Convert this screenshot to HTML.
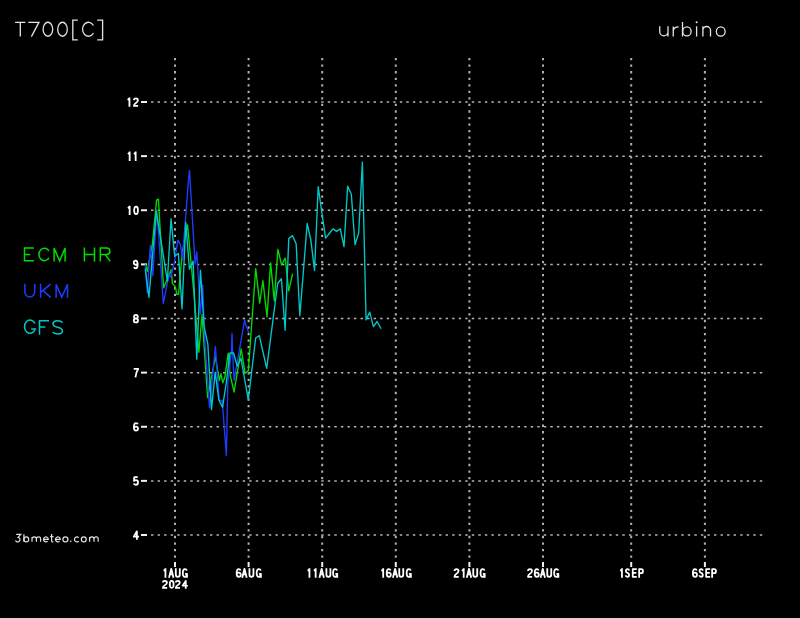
<!DOCTYPE html>
<html><head><meta charset="utf-8"><style>
html,body{margin:0;padding:0;background:#000;width:800px;height:618px;overflow:hidden}
svg{display:block;will-change:transform}
.gh{stroke:#b4b4b4;stroke-width:1.5;stroke-dasharray:2.4 4.146}
.gv{stroke:#b0b0b0;stroke-width:2.0;stroke-dasharray:2.3 4.246}
.tk{stroke:#f0f0f0;stroke-width:2}
</style></head><body>
<svg width="800" height="618" viewBox="0 0 800 618">
<g fill="none" stroke="#e4e4e4" stroke-width="1.3">
<path d="M15.1 22.4H25.4M20.3 22.4V36.6M28.25 22.4H38.9L31.4 36.6"/>
<ellipse cx="47.9" cy="29.25" rx="4.8" ry="7.0"/><ellipse cx="62.5" cy="29.25" rx="4.8" ry="7.0"/>
<path d="M77.8 20.05H72.8V39.95H77.8M97.2 20.05H102.6V39.95H97.2"/>
<path d="M93.5 25.5A5.94 7 0 1 0 93.5 33"/>
<path d="M659.75 26.25V31.7A4.125 4.125 0 0 0 668 31.7M668 26.25V36.5"/>
<path d="M673.25 26.5V36.5M673.25 31.2Q673.6 26.9 678.6 26.9"/>
<path d="M682.5 22V36.5"/><ellipse cx="686.9" cy="31.4" rx="4.2" ry="4.5"/>
<path d="M696.6 26.25V36.5M702.9 26.25V36.5M702.9 30.3A3.8 3.8 0 0 1 710.5 30.3V36.5"/>
<ellipse cx="720.75" cy="31.5" rx="4.4" ry="4.6"/>
</g>
<circle cx="696.6" cy="22.3" r="1.0" fill="#e4e4e4"/>
<g fill="none" stroke-width="1.5">
<path stroke="#00dc00" d="M33.9 248.1H24.5V260.7H33.9M24.5 254.4H30.3M49 251A5.47 6.25 0 1 0 49 257.8M54.1 261.4V248.1L59.6 260.9L65.1 248.1V261.4M84.4 247.4V261.4M94.5 247.4V261.4M84.4 254.6H94.5M100.3 261.4V248.1H106.7A3.15 3.15 0 0 1 106.7 254.4H100.3M105 254.4L110.3 261.2"/>
<path stroke="#1e3cff" d="M24.9 283.7V292.1A4.9 4.9 0 0 0 34.7 292.1V283.7M40.6 283.7V297.75M50.6 284.2L40.6 292.4M42.8 290.2L50.6 297.4M56.1 297.75V284.4L61.75 297.2L67.5 284.4V297.75"/>
<path stroke="#00c8c8" d="M35 323.5A5.6 6.6 0 1 0 35.3 329.1H31.25M49 320.75H39.5V334.7M39.5 326.9H45.3M62.6 322.6C61.5 321.2 59.6 320.75 57.6 320.75C54.8 320.75 53 322 53 324C53 326.3 55.2 326.8 57.6 327.3C60.3 327.9 62.4 328.6 62.4 331C62.4 333 60.4 333.95 57.6 333.95C55.3 333.95 53.6 333.3 52.7 331.9"/>
</g>
<g fill="none" stroke="#e2e2e2" stroke-width="1.2">
<path d="M16.2 534.3H20.8L18.1 537.4A2.35 2.3 0 1 1 15.5 540.6M23.9 534.3V541.8M32 536.9V541.8M32 538.9A2.2 2.1 0 0 1 36.4 538.9V541.8M36.4 538.9A2.1 2.1 0 0 1 40.6 538.9V541.8M43.5 539.3H48.3A2.4 2.45 0 1 0 47.6 541.1M51.6 533.9V540.8Q51.6 542 53.3 541.9M50.1 536.6H53.5M55.5 539.3H60.3A2.4 2.45 0 1 0 59.6 541.1M78.8 537.6A2.6 2.45 0 1 0 78.8 541.2M89.6 536.9V541.8M89.6 538.9A2.2 2.1 0 0 1 94 538.9V541.8M94 538.9A2.1 2.1 0 0 1 98.2 538.9V541.8"/>
<ellipse cx="26.3" cy="539.4" rx="2.4" ry="2.45"/><ellipse cx="65.4" cy="539.4" rx="2.5" ry="2.45"/><ellipse cx="83.8" cy="539.4" rx="2.45" ry="2.45"/>
</g><circle cx="70.8" cy="541.3" r="0.8" fill="#e2e2e2"/>
<line x1="151.05" y1="102.0" x2="762.5" y2="102.0" class="gh"/>
<line x1="141" y1="102.0" x2="147" y2="102.0" class="tk"/>
<line x1="151.05" y1="156.125" x2="762.5" y2="156.125" class="gh"/>
<line x1="141" y1="156.125" x2="147" y2="156.125" class="tk"/>
<line x1="151.05" y1="210.25" x2="762.5" y2="210.25" class="gh"/>
<line x1="141" y1="210.25" x2="147" y2="210.25" class="tk"/>
<line x1="151.05" y1="264.375" x2="762.5" y2="264.375" class="gh"/>
<line x1="141" y1="264.375" x2="147" y2="264.375" class="tk"/>
<line x1="151.05" y1="318.5" x2="762.5" y2="318.5" class="gh"/>
<line x1="141" y1="318.5" x2="147" y2="318.5" class="tk"/>
<line x1="151.05" y1="372.625" x2="762.5" y2="372.625" class="gh"/>
<line x1="141" y1="372.625" x2="147" y2="372.625" class="tk"/>
<line x1="151.05" y1="426.75" x2="762.5" y2="426.75" class="gh"/>
<line x1="141" y1="426.75" x2="147" y2="426.75" class="tk"/>
<line x1="151.05" y1="480.875" x2="762.5" y2="480.875" class="gh"/>
<line x1="141" y1="480.875" x2="147" y2="480.875" class="tk"/>
<line x1="151.05" y1="535.0" x2="762.5" y2="535.0" class="gh"/>
<line x1="141" y1="535.0" x2="147" y2="535.0" class="tk"/>
<line x1="175" y1="58.0" x2="175" y2="558" class="gv"/>
<line x1="175" y1="562" x2="175" y2="567" class="tk"/>
<line x1="248.6" y1="58.0" x2="248.6" y2="558" class="gv"/>
<line x1="248.6" y1="562" x2="248.6" y2="567" class="tk"/>
<line x1="322.2" y1="58.0" x2="322.2" y2="558" class="gv"/>
<line x1="322.2" y1="562" x2="322.2" y2="567" class="tk"/>
<line x1="395.8" y1="58.0" x2="395.8" y2="558" class="gv"/>
<line x1="395.8" y1="562" x2="395.8" y2="567" class="tk"/>
<line x1="469.4" y1="58.0" x2="469.4" y2="558" class="gv"/>
<line x1="469.4" y1="562" x2="469.4" y2="567" class="tk"/>
<line x1="543.0" y1="58.0" x2="543.0" y2="558" class="gv"/>
<line x1="543.0" y1="562" x2="543.0" y2="567" class="tk"/>
<line x1="631.2" y1="58.0" x2="631.2" y2="558" class="gv"/>
<line x1="631.2" y1="562" x2="631.2" y2="567" class="tk"/>
<line x1="704.9" y1="58.0" x2="704.9" y2="558" class="gv"/>
<line x1="704.9" y1="562" x2="704.9" y2="567" class="tk"/>
<g fill="none" stroke="#fff" stroke-width="1.8" stroke-linejoin="round"><path transform="translate(163.00 568.30)" d="M2.45 0V9.4M0.8 2.7L2.45 0.7"/><path transform="translate(168.10 568.30)" d="M0.9 9.4L3.15 0.5L5.4 9.4M1.75 6.1H4.55"/><path transform="translate(174.90 568.30)" d="M0.9 0V6.2Q0.9 8.5 2.9 8.5Q4.9 8.5 4.9 6.2V0"/><path transform="translate(181.90 568.30)" d="M5 2.3Q4.6 0.9 3 0.9Q0.9 0.9 0.9 4.7Q0.9 8.5 3 8.5Q5.1 8.5 5.1 5.5H3.2M5.1 5.4V9.4"/><path transform="translate(235.75 568.30)" d="M4.8 2.2Q4.4 0.9 3 0.9Q0.9 0.9 0.9 4.9Q0.9 8.5 3 8.5Q5 8.5 5 6.4Q5 4.4 3 4.4Q0.9 4.4 0.9 6.4"/><path transform="translate(241.30 568.30)" d="M0.9 9.4L3.15 0.5L5.4 9.4M1.75 6.1H4.55"/><path transform="translate(248.55 568.30)" d="M0.9 0V6.2Q0.9 8.5 2.9 8.5Q4.9 8.5 4.9 6.2V0"/><path transform="translate(255.80 568.30)" d="M5 2.3Q4.6 0.9 3 0.9Q0.9 0.9 0.9 4.7Q0.9 8.5 3 8.5Q5.1 8.5 5.1 5.5H3.2M5.1 5.4V9.4"/><path transform="translate(307.00 568.30)" d="M2.45 0V9.4M0.8 2.7L2.45 0.7"/><path transform="translate(313.20 568.30)" d="M2.45 0V9.4M0.8 2.7L2.45 0.7"/><path transform="translate(318.50 568.30)" d="M0.9 9.4L3.15 0.5L5.4 9.4M1.75 6.1H4.55"/><path transform="translate(325.50 568.30)" d="M0.9 0V6.2Q0.9 8.5 2.9 8.5Q4.9 8.5 4.9 6.2V0"/><path transform="translate(332.15 568.30)" d="M5 2.3Q4.6 0.9 3 0.9Q0.9 0.9 0.9 4.7Q0.9 8.5 3 8.5Q5.1 8.5 5.1 5.5H3.2M5.1 5.4V9.4"/><path transform="translate(380.75 568.30)" d="M2.45 0V9.4M0.8 2.7L2.45 0.7"/><path transform="translate(385.80 568.30)" d="M4.8 2.2Q4.4 0.9 3 0.9Q0.9 0.9 0.9 4.9Q0.9 8.5 3 8.5Q5 8.5 5 6.4Q5 4.4 3 4.4Q0.9 4.4 0.9 6.4"/><path transform="translate(391.98 568.30)" d="M0.9 9.4L3.15 0.5L5.4 9.4M1.75 6.1H4.55"/><path transform="translate(398.35 568.30)" d="M0.9 0V6.2Q0.9 8.5 2.9 8.5Q4.9 8.5 4.9 6.2V0"/><path transform="translate(405.75 568.30)" d="M5 2.3Q4.6 0.9 3 0.9Q0.9 0.9 0.9 4.7Q0.9 8.5 3 8.5Q5.1 8.5 5.1 5.5H3.2M5.1 5.4V9.4"/><path transform="translate(453.60 568.30)" d="M0.9 2.7Q1 0.9 2.9 0.9Q4.9 0.9 4.9 2.8Q4.9 4.3 2.9 5.5Q0.9 6.7 0.9 8.5H5.1"/><path transform="translate(461.25 568.30)" d="M2.45 0V9.4M0.8 2.7L2.45 0.7"/><path transform="translate(465.85 568.30)" d="M0.9 9.4L3.15 0.5L5.4 9.4M1.75 6.1H4.55"/><path transform="translate(472.35 568.30)" d="M0.9 0V6.2Q0.9 8.5 2.9 8.5Q4.9 8.5 4.9 6.2V0"/><path transform="translate(479.62 568.30)" d="M5 2.3Q4.6 0.9 3 0.9Q0.9 0.9 0.9 4.7Q0.9 8.5 3 8.5Q5.1 8.5 5.1 5.5H3.2M5.1 5.4V9.4"/><path transform="translate(527.10 568.30)" d="M0.9 2.7Q1 0.9 2.9 0.9Q4.9 0.9 4.9 2.8Q4.9 4.3 2.9 5.5Q0.9 6.7 0.9 8.5H5.1"/><path transform="translate(533.80 568.30)" d="M4.8 2.2Q4.4 0.9 3 0.9Q0.9 0.9 0.9 4.9Q0.9 8.5 3 8.5Q5 8.5 5 6.4Q5 4.4 3 4.4Q0.9 4.4 0.9 6.4"/><path transform="translate(539.60 568.30)" d="M0.9 9.4L3.15 0.5L5.4 9.4M1.75 6.1H4.55"/><path transform="translate(546.35 568.30)" d="M0.9 0V6.2Q0.9 8.5 2.9 8.5Q4.9 8.5 4.9 6.2V0"/><path transform="translate(553.25 568.30)" d="M5 2.3Q4.6 0.9 3 0.9Q0.9 0.9 0.9 4.7Q0.9 8.5 3 8.5Q5.1 8.5 5.1 5.5H3.2M5.1 5.4V9.4"/><path transform="translate(619.50 568.30)" d="M2.45 0V9.4M0.8 2.7L2.45 0.7"/><path transform="translate(625.00 568.30)" d="M4.2 2.3Q4 0.9 2.5 0.9Q0.9 0.9 0.9 2.6Q0.9 4.1 2.5 4.6Q4.1 5.1 4.1 6.8Q4.1 8.5 2.5 8.5Q0.8 8.5 0.7 6.9"/><path transform="translate(631.85 568.30)" d="M4.9 0.9H0.9V8.5H4.9M0.9 4.6H4.5"/><path transform="translate(638.25 568.30)" d="M0.9 9.4V0.9H3Q4.7 0.9 4.7 2.9Q4.7 4.9 3 4.9H0.9"/><path transform="translate(691.97 568.30)" d="M4.8 2.2Q4.4 0.9 3 0.9Q0.9 0.9 0.9 4.9Q0.9 8.5 3 8.5Q5 8.5 5 6.4Q5 4.4 3 4.4Q0.9 4.4 0.9 6.4"/><path transform="translate(698.67 568.30)" d="M4.2 2.3Q4 0.9 2.5 0.9Q0.9 0.9 0.9 2.6Q0.9 4.1 2.5 4.6Q4.1 5.1 4.1 6.8Q4.1 8.5 2.5 8.5Q0.8 8.5 0.7 6.9"/><path transform="translate(705.25 568.30)" d="M4.9 0.9H0.9V8.5H4.9M0.9 4.6H4.5"/><path transform="translate(711.25 568.30)" d="M0.9 9.4V0.9H3Q4.7 0.9 4.7 2.9Q4.7 4.9 3 4.9H0.9"/><path transform="translate(162.03 580.00) scale(1 0.93)" d="M0.9 2.7Q1 0.9 2.9 0.9Q4.9 0.9 4.9 2.8Q4.9 4.3 2.9 5.5Q0.9 6.7 0.9 8.5H5.1"/><path transform="translate(168.90 580.00) scale(1 0.93)" d="M2.8 0.9Q4.7 0.9 4.7 4.7Q4.7 8.5 2.8 8.5Q0.9 8.5 0.9 4.7Q0.9 0.9 2.8 0.9Z"/><path transform="translate(174.88 580.00) scale(1 0.93)" d="M0.9 2.7Q1 0.9 2.9 0.9Q4.9 0.9 4.9 2.8Q4.9 4.3 2.9 5.5Q0.9 6.7 0.9 8.5H5.1"/><path transform="translate(181.75 580.00) scale(1 0.93)" d="M4 9.4V0.9L0.9 6.2H6.1"/><path transform="translate(127.00 97.40)" d="M2.45 0V9.4M0.8 2.7L2.45 0.7"/><path transform="translate(133.00 97.40)" d="M0.9 2.7Q1 0.9 2.9 0.9Q4.9 0.9 4.9 2.8Q4.9 4.3 2.9 5.5Q0.9 6.7 0.9 8.5H5.1"/><path transform="translate(127.20 151.53)" d="M2.45 0V9.4M0.8 2.7L2.45 0.7"/><path transform="translate(133.20 151.53)" d="M2.45 0V9.4M0.8 2.7L2.45 0.7"/><path transform="translate(127.20 205.65)" d="M2.45 0V9.4M0.8 2.7L2.45 0.7"/><path transform="translate(133.25 205.65)" d="M2.8 0.9Q4.7 0.9 4.7 4.7Q4.7 8.5 2.8 8.5Q0.9 8.5 0.9 4.7Q0.9 0.9 2.8 0.9Z"/><path transform="translate(132.90 259.77)" d="M1.1 7.2Q1.5 8.5 2.8 8.5Q4.7 8.5 4.7 4.5Q4.7 0.9 2.7 0.9Q0.9 0.9 0.9 3Q0.9 5 2.7 5Q4.7 5 4.7 3.2"/><path transform="translate(132.90 313.90)" d="M3 0.9Q4.85 0.9 4.85 2.75Q4.85 4.6 3 4.6Q1.15 4.6 1.15 2.75Q1.15 0.9 3 0.9ZM3 4.6Q5.1 4.6 5.1 6.55Q5.1 8.5 3 8.5Q0.9 8.5 0.9 6.55Q0.9 4.6 3 4.6Z"/><path transform="translate(132.90 368.02)" d="M0.8 0.9H5.3Q3 4.2 2.5 9.4"/><path transform="translate(133.00 422.15)" d="M4.8 2.2Q4.4 0.9 3 0.9Q0.9 0.9 0.9 4.9Q0.9 8.5 3 8.5Q5 8.5 5 6.4Q5 4.4 3 4.4Q0.9 4.4 0.9 6.4"/><path transform="translate(133.00 476.27)" d="M4.7 0.9H1.3L1 4.6Q1.8 3.9 2.9 3.9Q5 3.9 5 6.2Q5 8.5 2.9 8.5Q1.1 8.5 0.8 7.1"/><path transform="translate(132.90 530.40)" d="M4 9.4V0.9L0.9 6.2H6.1"/></g>
<polyline points="145.3,264 147.3,271.3 152.4,244 156.6,200.2 158.4,199.2 163.6,287.9 171.1,269.8 172.4,283.4 175.3,286.6 176.9,294.3 178.5,294.3 182.4,251.5 187.5,224.9 193.7,290.8 198.9,352.2 202,314.8 207.6,397.6 215.4,356.7 219.3,380.5 220.9,373.7 222.8,382.8 224.8,377.3 228.2,353.2 230.2,375.2 234.1,392 241.2,348.8 245.1,373.3 248.3,370.7 255.7,268.6 259.7,303.2 262.9,280.7 267,317 270.6,262.9 274.3,300.8 277.9,249.3 281.6,265 285.2,258.1 288.7,290.9 292.5,274.3" fill="none" stroke="#00dc00" stroke-width="1.35" stroke-linejoin="round" stroke-linecap="round"/>
<polyline points="145.3,265.4 147.3,292.4 150.4,245.3 152.9,275.6 156.6,211 157.8,222.1 163.3,303.5 167.2,283.7 169.5,274.5 170.8,277 174.3,262.6 177.8,240.2 180.4,244.4 182.4,259 188.5,180 189.5,170.4 195.1,264 196.8,251.8 200.4,314 202.7,285 204.4,333 209.5,407.7 215.4,346.4 219.2,400.5 222.2,400.5 226.4,455.6 227.8,383 231.4,352 232,333.3 232.6,352 234.1,380.4 244.7,319.7 245.1,323 248.6,332.3" fill="none" stroke="#1e3cff" stroke-width="1.35" stroke-linejoin="round" stroke-linecap="round"/>
<polyline points="145.26,269.1 148.94,297.4 152.62,254 156.3,211.1 159.98,234.3 163.66,257.7 167.34,281 171.02,218.9 174.7,256.1 178.38,253.5 182.06,308.9 185.74,222.3 189.42,269.3 193.1,261.1 196.78,359.3 200.46,270.3 204.14,327 207.82,343.8 211.5,409.6 215.18,372.1 218.86,400 222.54,407.3 226.22,383 229.9,353 233.58,353 237.26,366.2 240.94,358.4 244.62,379 248.3,399.9 251.98,369 255.66,338 259.34,335.6 263.02,352 266.7,368.3 270.38,339.9 274.06,311.6 277.74,283.2 281.42,278.7 285.1,330.3 288.78,238.5 292.46,235.6 296.14,243.7 299.82,315.8 303.5,270 307.18,223.5 310.86,240.1 314.54,270.5 318.22,186.6 321.9,213 325.58,238.2 329.26,233.5 332.94,228.9 336.62,231.4 340.3,228.9 343.98,246.7 347.66,186.3 351.34,194.2 355.02,244.7 358.7,233 362.38,162.1 366.06,319.9 369.74,312.1 373.42,326.7 377.1,321.5 380.78,328.3" fill="none" stroke="#00c8c8" stroke-width="1.35" stroke-linejoin="round" stroke-linecap="round"/>
</svg>
</body></html>
